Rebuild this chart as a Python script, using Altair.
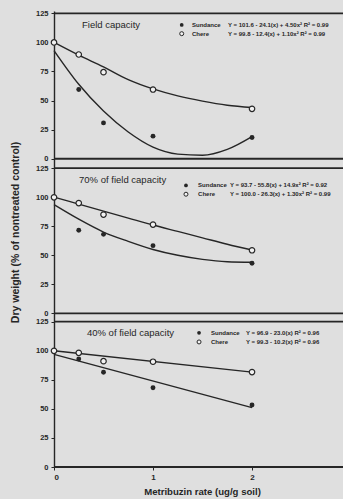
import altair as alt
import pandas as pd

# ---------------- data ----------------
panels = ["Field capacity", "70% of field capacity", "40% of field capacity"]
cultivars = ["Sundance", "Chere"]

rates = [0, 0.25, 0.5, 1, 2]
sundance_fc = [100, 59.5, 30.8, 19.4, 18.3]
chere_fc = [100, 89.6, 74.4, 59.5, 42.9]
sundance_70 = [100, 71.5, 68.0, 58.3, 43.1]
chere_70 = [99.8, 94.9, 85.0, 76.4, 54.3]
sundance_40 = [100, 92.8, 81.4, 68.1, 53.3]
chere_40 = [99.9, 98.2, 91.0, 90.5, 81.6]

# fitted curves as drawn
curve_x = [0, 0.25, 0.5, 0.75, 1, 1.25, 1.5, 1.75, 2]
fit_sundance_fc = [93, 64, 41, 23, 10, 4, 3, 8, 19]
fit_chere_fc = [100, 89, 79, 68, 60, 54, 49.5, 46, 44]
fit_sundance_70 = [93.5, 81, 70, 62, 55, 50, 46.5, 44.5, 44]
fit_chere_70 = [100, 94, 88, 82, 76, 70.5, 65, 59.5, 54.5]
line_x = [0, 2]
fit_sundance_40 = [96.8, 51]
fit_chere_40 = [99.9, 81.6]

equations = {
    ("Field capacity", "Sundance"): "Y = 101.6 - 24.1(x) + 4.50x\u00b2   R\u00b2 = 0.99",
    ("Field capacity", "Chere"): "Y = 99.8 - 12.4(x) + 1.10x\u00b2   R\u00b2 = 0.99",
    ("70% of field capacity", "Sundance"): "Y = 93.7 - 55.8(x) + 14.9x\u00b2   R\u00b2 = 0.92",
    ("70% of field capacity", "Chere"): "Y = 100.0 - 26.3(x) + 1.30x\u00b2   R\u00b2 = 0.99",
    ("40% of field capacity", "Sundance"): "Y = 96.9 - 23.0(x)   R\u00b2 = 0.96",
    ("40% of field capacity", "Chere"): "Y = 99.3 - 10.2(x)   R\u00b2 = 0.96",
}

y_ticks = [0, 25, 50, 75, 100, 125]
x_ticks = [0, 1, 2]

# ---------------- layout (stacking of the three panels) ----------------
offsets = {"Field capacity": 265, "70% of field capacity": 132, "40% of field capacity": 0}
title_pos = {"Field capacity": (0.283, 115), "70% of field capacity": (0.253, 115),
             "40% of field capacity": (0.333, 115.4)}
legend_pos = {  # marker x, label x, equation x, row1 y, row2 y
    "Field capacity": (1.29, 1.394, 1.758, 115, 107.5),
    "70% of field capacity": (1.333, 1.455, 1.778, 110, 102.5),
    "40% of field capacity": (1.465, 1.586, 1.939, 115.4, 107.5),
}

pts_series = {
    ("Field capacity", "Sundance"): sundance_fc, ("Field capacity", "Chere"): chere_fc,
    ("70% of field capacity", "Sundance"): sundance_70, ("70% of field capacity", "Chere"): chere_70,
    ("40% of field capacity", "Sundance"): sundance_40, ("40% of field capacity", "Chere"): chere_40,
}
fit_series = {
    ("Field capacity", "Sundance"): (curve_x, fit_sundance_fc),
    ("Field capacity", "Chere"): (curve_x, fit_chere_fc),
    ("70% of field capacity", "Sundance"): (curve_x, fit_sundance_70),
    ("70% of field capacity", "Chere"): (curve_x, fit_chere_70),
    ("40% of field capacity", "Sundance"): (line_x, fit_sundance_40),
    ("40% of field capacity", "Chere"): (line_x, fit_chere_40),
}

pts = pd.DataFrame([
    {"panel": p, "cultivar": c, "x": x, "v": v, "off": offsets[p]}
    for (p, c), vals in pts_series.items() for x, v in zip(rates, vals)
])
fits = pd.DataFrame([
    {"panel": p, "cultivar": c, "key": p + c, "x": x, "v": v, "off": offsets[p]}
    for (p, c), (xs, vals) in fit_series.items() for x, v in zip(xs, vals)
])
frames = pd.DataFrame([{"v": v, "off": offsets[p]} for p in panels for v in [0, 125]])
titles = pd.DataFrame([{"panel": p, "x": title_pos[p][0], "v": title_pos[p][1], "off": offsets[p]} for p in panels])
leg = []
for p in panels:
    mx, lx, ex, r1, r2 = legend_pos[p]
    for c, r in zip(cultivars, [r1, r2]):
        leg.append({"panel": p, "cultivar": c, "mx": mx, "lx": lx, "ex": ex, "v": r,
                    "off": offsets[p], "eq": equations[(p, c)]})
leg = pd.DataFrame(leg)

INK = "#262626"
BG = "#dfdfdf"
FONT = "Liberation Sans"

yvals = [offsets[p] + t for p in panels for t in y_ticks]
label_expr = ("datum.value >= 265 ? toString(datum.value - 265) : "
              "(datum.value >= 132 ? toString(datum.value - 132) : toString(datum.value))")

xscale = alt.Scale(domain=[0, 2.919], nice=False, zero=False)
yscale = alt.Scale(domain=[0, 392], nice=False, zero=False)

x_axis = alt.Axis(
    values=x_ticks, format="d", labelOverlap=False, title="Metribuzin rate (ug/g soil)",
    domain=False, grid=False,
    tickSize=3, tickColor=INK, labelFontSize=8, labelFontWeight="bold", labelColor=INK,
    labelPadding=3, labelFont=FONT, titleFont=FONT, titleFontSize=9.6, titleFontWeight="bold",
    titleColor=INK, titlePadding=5, titleX=148)
y_axis = alt.Axis(
    values=yvals, tickCount=40, labelExpr=label_expr, labelOverlap=False, labelBound=False,
    labelFlush=False, title="Dry weight (% of nontreated control)",
    grid=False, domainColor=INK, domainWidth=1.4, tickSize=3, tickColor=INK,
    labelFontSize=7.5, labelFontWeight="bold", labelColor=INK, labelPadding=3, labelFont=FONT,
    titleFont=FONT, titleFontSize=10.5, titleFontWeight="bold", titleColor=INK,
    titleX=-39, titleY=221, titleBaseline="middle")

X = lambda f: alt.X(f, scale=xscale)
Y = alt.Y("y:Q", scale=yscale)

calc = {"y": "datum.v + datum.off"}

frame_layer = alt.Chart(frames).transform_calculate(**calc).mark_rule(
    color=INK, strokeWidth=1.8).encode(
    y=alt.Y("y:Q", scale=yscale, axis=y_axis), x=alt.value(0), x2=alt.value(289))

fit_layer = alt.Chart(fits).transform_calculate(**calc).mark_line(
    interpolate="monotone", color=INK, strokeWidth=1.4).encode(
    x=alt.X("x:Q", scale=xscale, axis=x_axis), y=alt.Y("y:Q", scale=yscale, axis=y_axis),
    detail="key:N", order="x:Q")

sund_layer = alt.Chart(pts).transform_filter(alt.datum.cultivar == "Sundance").transform_calculate(
    **calc).mark_point(shape="circle", filled=True, color=INK, size=24, opacity=1).encode(
    x=X("x:Q"), y=Y)

chere_layer = alt.Chart(pts).transform_filter(alt.datum.cultivar == "Chere").transform_calculate(
    **calc).mark_point(shape="circle", filled=True, fill="#f2f2f2", stroke=INK, strokeWidth=1.2,
                       size=30, opacity=1).encode(x=X("x:Q"), y=Y)

title_layer = alt.Chart(titles).transform_calculate(**calc).mark_text(
    align="left", baseline="middle", font=FONT, fontSize=9.5, color=INK).encode(
    x=X("x:Q"), y=Y, text="panel:N")

leg_s = alt.Chart(leg).transform_filter(alt.datum.cultivar == "Sundance").transform_calculate(
    **calc).mark_point(shape="circle", filled=True, color=INK, size=14, opacity=1).encode(
    x=X("mx:Q"), y=Y)
leg_c = alt.Chart(leg).transform_filter(alt.datum.cultivar == "Chere").transform_calculate(
    **calc).mark_point(shape="circle", filled=True, fill="#f2f2f2", stroke=INK, strokeWidth=1,
                       size=16, opacity=1).encode(x=X("mx:Q"), y=Y)
leg_lab = alt.Chart(leg).transform_calculate(**calc).mark_text(
    align="left", baseline="middle", font=FONT, fontSize=6, fontWeight="bold", color=INK).encode(
    x=X("lx:Q"), y=Y, text="cultivar:N")
leg_eq = alt.Chart(leg).transform_calculate(**calc).mark_text(
    align="left", baseline="middle", font=FONT, fontSize=6, fontWeight="bold", color=INK).encode(
    x=X("ex:Q"), y=Y, text="eq:N")

chart = alt.layer(
    frame_layer, fit_layer, sund_layer, chere_layer, title_layer, leg_s, leg_c, leg_lab, leg_eq
).properties(
    width=289, height=456,
    autosize=alt.AutoSizeParams(type="none"),
    padding={"left": 54, "top": 11, "right": 0, "bottom": 32},
    background=BG,
).configure_view(strokeWidth=0).configure_axis(labelOverlap=False)

chart.save("out.html", embed_options={"renderer": "svg", "actions": False})
